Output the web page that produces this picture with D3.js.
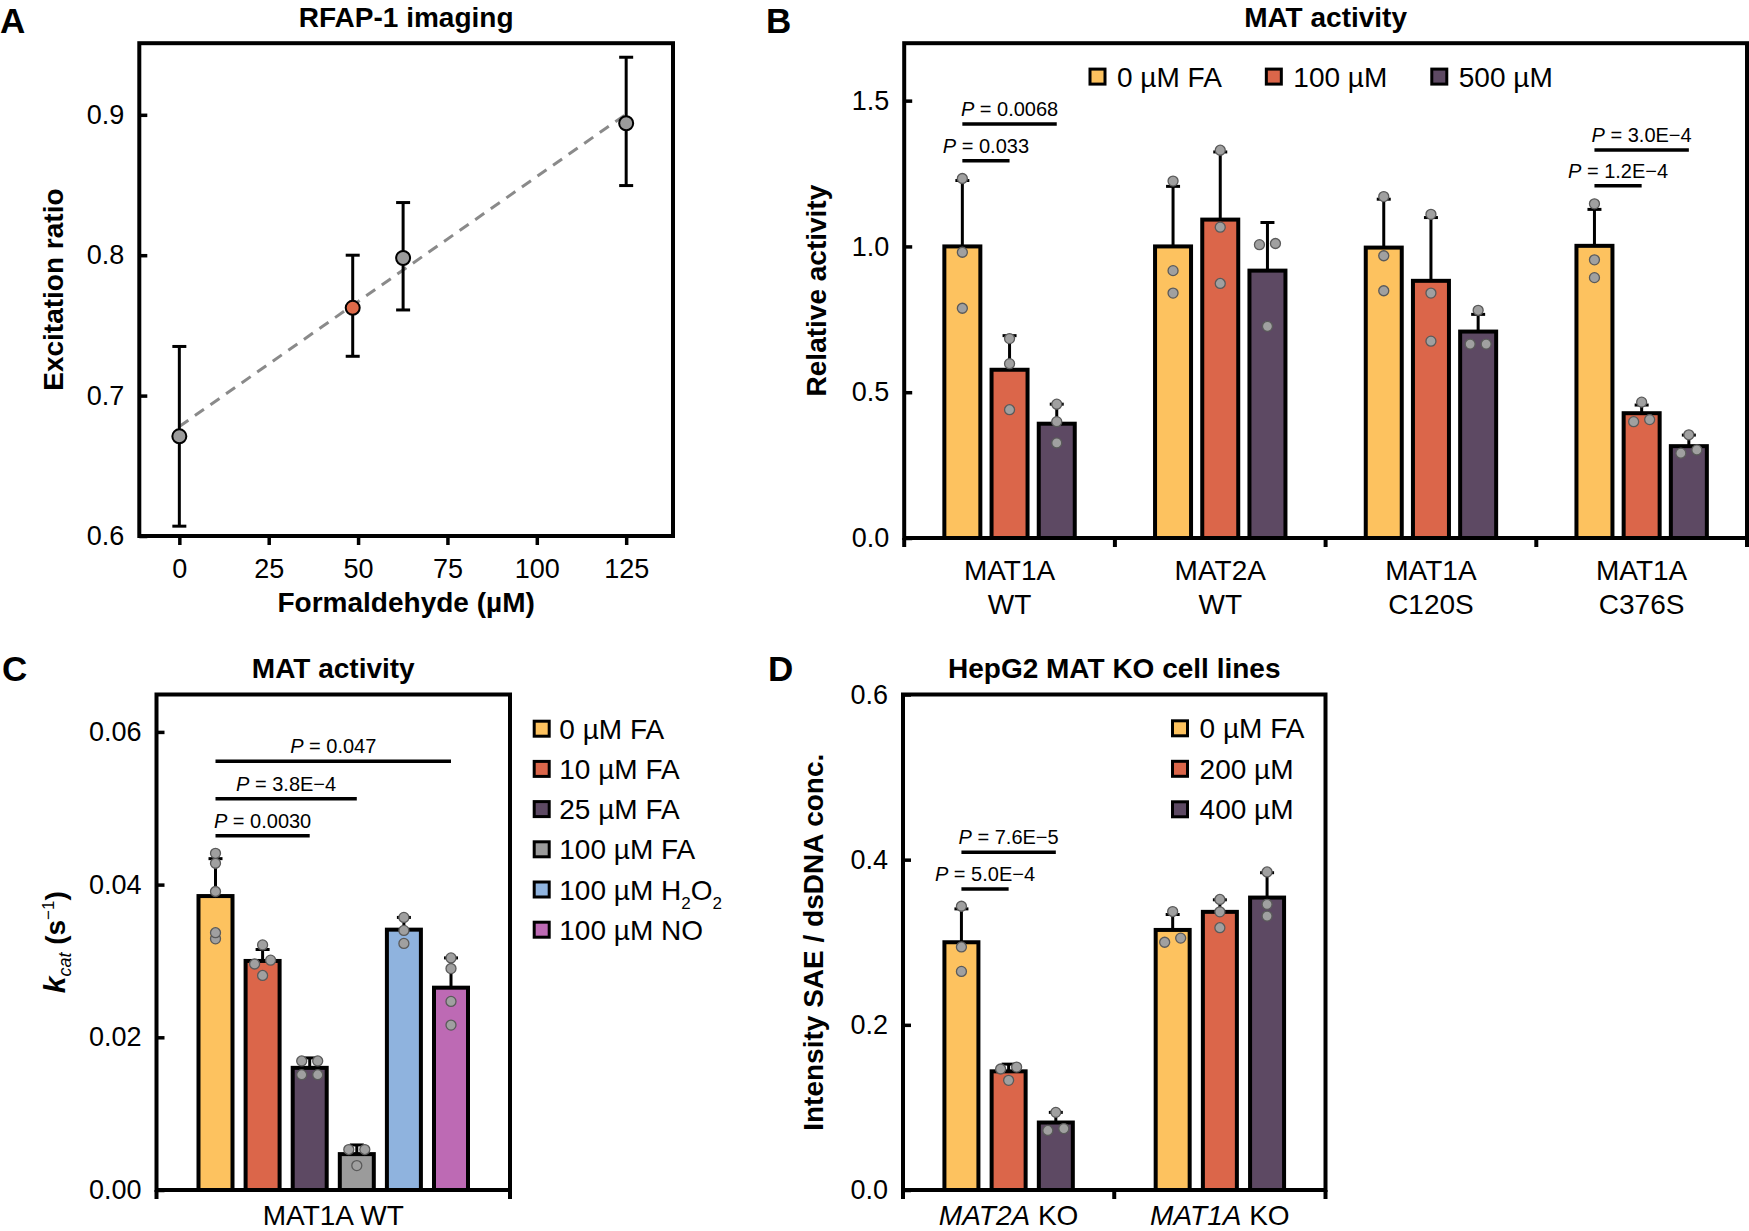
<!DOCTYPE html>
<html><head><meta charset="utf-8">
<script src="https://cdn.jsdelivr.net/npm/d3@7"></script>
<style>body{margin:0;background:#fff}svg{display:block}</style>
</head><body>
<script>
// ---------------- DATA ----------------
// Panel A: RFAP-1 imaging
const aX = [0, 48.5, 62.6, 125];
const aY = [0.671, 0.7625, 0.798, 0.894];
const aLow = [0.607, 0.728, 0.761, 0.8496];
const aHigh = [0.735, 0.800, 0.8375, 0.941];
const aHighlight = [false, true, false, false];
const aFitIntercept = 0.678;
const aFitSlope = 0.00178;
const aXTicks = [0, 25, 50, 75, 100, 125];
const aYTicks = [0.6, 0.7, 0.8, 0.9];

// Panel B: MAT activity (relative)
const bGroups = [["MAT1A", "WT"], ["MAT2A", "WT"], ["MAT1A", "C120S"], ["MAT1A", "C376S"]];
const bSeries = ["0 µM FA", "100 µM", "500 µM"];
const bMeans = [[1.00, 0.577, 0.392], [1.00, 1.092, 0.917], [0.996, 0.882, 0.708], [1.002, 0.428, 0.315]];
const bErrTop = [[1.226, 0.694, 0.459], [1.206, 1.324, 1.082], [1.162, 1.099, 0.767], [1.127, 0.456, 0.353]];
const bDots = [
  [[1.233, 0.98, 0.788], [0.684, 0.598, 0.44], [0.459, 0.399, 0.326]],
  [[1.224, 0.917, 0.84], [1.33, 1.066, 0.873], [1.006, 1.01, 0.726]],
  [[1.171, 0.968, 0.848], [1.11, 0.84, 0.675], [0.781, 0.665, 0.665]],
  [[1.146, 0.954, 0.893], [0.466, 0.399, 0.406], [0.354, 0.291, 0.302]]
];
const bSig = [
  {group: 0, from: 0, to: 1, level: 1.294, p: "0.033"},
  {group: 0, from: 0, to: 2, level: 1.42, p: "0.0068"},
  {group: 3, from: 0, to: 1, level: 1.208, p: "1.2E\u22124"},
  {group: 3, from: 0, to: 2, level: 1.331, p: "3.0E\u22124"}
];
const bYTicks = [0, 0.5, 1.0, 1.5];

// Panel C: MAT activity (kcat)
const cCategory = "MAT1A WT";
const cSeries = ["0 µM FA", "10 µM FA", "25 µM FA", "100 µM FA", "100 µM H2O2", "100 µM NO"];
const cMeans = [0.0385, 0.0300, 0.0160, 0.0047, 0.0341, 0.0265];
const cErrTop = [0.0434, 0.0315, 0.0173, 0.0059, 0.0357, 0.0304];
const cDots = [
  [0.0441, 0.0428, 0.0391, 0.0337, 0.0329],
  [0.0321, 0.0296, 0.0301, 0.0281],
  [0.0169, 0.0169, 0.0151, 0.0151],
  [0.0053, 0.0053, 0.0032],
  [0.0357, 0.0340, 0.0323],
  [0.0304, 0.0290, 0.0247, 0.0216]
];
const cSig = [
  {group: 0, from: 0, to: 2, level: 0.0464, p: "0.0030"},
  {group: 0, from: 0, to: 3, level: 0.05125, p: "3.8E\u22124"},
  {group: 0, from: 0, to: 5, level: 0.05615, p: "0.047"}
];
const cYTicks = [0, 0.02, 0.04, 0.06];

// Panel D: HepG2 MAT KO cell lines
const dGroups = ["MAT2A", "MAT1A"];
const dSeries = ["0 µM FA", "200 µM", "400 µM"];
const dMeans = [[0.300, 0.1437, 0.0817], [0.3149, 0.3368, 0.3541]];
const dErrTop = [[0.3404, 0.1524, 0.094], [0.3336, 0.3514, 0.3842]];
const dDots = [
  [[0.3436, 0.2943, 0.2647], [0.1465, 0.1488, 0.1328], [0.094, 0.0721, 0.0744]],
  [[0.3372, 0.300, 0.305], [0.3518, 0.3368, 0.3176], [0.3851, 0.3459, 0.3317]]
];
const dSig = [
  {group: 0, from: 0, to: 1, level: 0.3646, p: "5.0E\u22124"},
  {group: 0, from: 0, to: 2, level: 0.4089, p: "7.6E\u22125"}
];
const dYTicks = [0, 0.2, 0.4, 0.6];

// ---------------- STYLE ----------------
const FONT = "'Liberation Sans', Arial, Helvetica, sans-serif";
const COL_Y = "#FDC25F", COL_R = "#DB664A", COL_P = "#5D4963",
      COL_G = "#9B9B9B", COL_B = "#8FB3DE", COL_M = "#BD6AB4";
const FS = 27, FS_T = 28, FS_P = 20;

const svg = d3.select("body").append("svg")
  .attr("width", 1749).attr("height", 1231)
  .attr("font-family", FONT);

function styleAxis(g) {
  g.select(".domain").remove();
  g.selectAll(".tick line").attr("stroke", "#000").attr("stroke-width", 3.5);
  g.selectAll(".tick text").attr("fill", "#000").attr("font-size", FS).attr("font-family", FONT);
}
function frame(f) {
  svg.append("rect").attr("x", f.l).attr("y", f.t)
    .attr("width", f.r - f.l).attr("height", f.b - f.t)
    .attr("fill", "none").attr("stroke", "#000").attr("stroke-width", 4);
}
function label(x, y, str, o = {}) {
  return svg.append("text").attr("x", x).attr("y", y)
    .attr("font-size", o.size || FS_T)
    .attr("font-weight", o.bold ? "bold" : "normal")
    .attr("text-anchor", o.anchor || "start")
    .attr("fill", "#000").text(str);
}
function yTitle(x, y, str) {
  return svg.append("text").attr("transform", `translate(${x},${y}) rotate(-90)`)
    .attr("text-anchor", "middle").attr("font-size", FS_T).attr("font-weight", "bold").text(str);
}

// ---------------- PANEL A ----------------
const FA = {l: 139.3, r: 673, t: 43.2, b: 536};
const ax = d3.scaleLinear().domain([-11.2, 138.1]).range([FA.l, FA.r]);
const ay = d3.scaleLinear().domain([0.6, 0.951]).range([FA.b, FA.t]);

label(0, 33, "A", {size: 35, bold: true});
label((FA.l + FA.r) / 2, 27, "RFAP-1 imaging", {bold: true, anchor: "middle"});

svg.append("path")
  .datum([0, 125].map(x => [x, aFitIntercept + aFitSlope * x]))
  .attr("d", d3.line().x(d => ax(d[0])).y(d => ay(d[1])))
  .attr("fill", "none").attr("stroke", "#8a8a8a").attr("stroke-width", 3)
  .attr("stroke-dasharray", "11,8");

const aPts = aX.map((x, i) => ({x, y: aY[i], lo: aLow[i], hi: aHigh[i], hl: aHighlight[i]}));
const aErr = svg.append("g").attr("stroke", "#000").attr("stroke-width", 3);
aPts.forEach(p => {
  aErr.append("line").attr("x1", ax(p.x)).attr("x2", ax(p.x)).attr("y1", ay(p.lo)).attr("y2", ay(p.hi));
  aErr.append("line").attr("x1", ax(p.x) - 7).attr("x2", ax(p.x) + 7).attr("y1", ay(p.lo)).attr("y2", ay(p.lo));
  aErr.append("line").attr("x1", ax(p.x) - 7).attr("x2", ax(p.x) + 7).attr("y1", ay(p.hi)).attr("y2", ay(p.hi));
});
svg.append("g").selectAll("circle").data(aPts).join("circle")
  .attr("cx", d => ax(d.x)).attr("cy", d => ay(d.y)).attr("r", 7)
  .attr("fill", d => d.hl ? "#DE6A49" : "#9B9B9B").attr("stroke", "#000").attr("stroke-width", 2);

frame(FA);
styleAxis(svg.append("g").attr("transform", `translate(${FA.l},0)`)
  .call(d3.axisLeft(ay).tickValues(aYTicks).tickFormat(d3.format(".1f")).tickSize(-8).tickPadding(15)));
styleAxis(svg.append("g").attr("transform", `translate(0,${FA.b})`)
  .call(d3.axisBottom(ax).tickValues(aXTicks).tickFormat(d3.format("d")).tickSize(9).tickPadding(14)));
label((FA.l + FA.r) / 2, 612, "Formaldehyde (µM)", {bold: true, anchor: "middle"});
yTitle(63, (FA.t + FA.b) / 2, "Excitation ratio");

// ---------------- BAR PANEL HELPER ----------------
function barPanel(cfg) {
  const f = cfg.frame;
  const y = d3.scaleLinear().domain(cfg.yDomain).range([f.b, f.t]);
  const x0 = d3.scaleBand().domain(d3.range(cfg.means.length)).range([f.l, f.r]);
  const n = cfg.colors.length;
  const x1 = d3.scaleBand().domain(d3.range(n)).range([-n * cfg.sp / 2, n * cfg.sp / 2]);
  const cx = (gi, si) => x0(gi) + x0.bandwidth() / 2 + x1(si) + x1.bandwidth() / 2;
  const recs = [];
  cfg.means.forEach((row, gi) => row.forEach((m, si) =>
    recs.push({gi, si, m, e: cfg.err[gi][si], dots: cfg.dots[gi][si]})));
  const g = svg.append("g");
  g.selectAll("rect.bar").data(recs).join("rect").attr("class", "bar")
    .attr("x", d => cx(d.gi, d.si) - cfg.bw / 2).attr("width", cfg.bw)
    .attr("y", d => y(d.m)).attr("height", d => y(0) - y(d.m))
    .attr("fill", d => cfg.colors[d.si]).attr("stroke", "#000").attr("stroke-width", 4);
  const eg = g.append("g").attr("stroke", "#000").attr("stroke-width", 3);
  recs.forEach(d => {
    const x = cx(d.gi, d.si);
    eg.append("line").attr("x1", x).attr("x2", x).attr("y1", y(d.m)).attr("y2", y(d.e));
    eg.append("line").attr("x1", x - 7).attr("x2", x + 7).attr("y1", y(d.e)).attr("y2", y(d.e));
  });
  const dg = g.append("g");
  recs.forEach(d => {
    const x = cx(d.gi, d.si);
    const vals = d.dots.slice().sort((a, b) => a - b);
    const clusters = [];
    vals.forEach(v => {
      const last = clusters[clusters.length - 1];
      if (last && Math.abs(y(last[last.length - 1]) - y(v)) < 5) last.push(v);
      else clusters.push([v]);
    });
    clusters.forEach(cl => cl.forEach((v, i) => {
      dg.append("circle").attr("cx", x + (i - (cl.length - 1) / 2) * 16).attr("cy", y(v))
        .attr("r", 5).attr("fill", "#a0a0a0").attr("stroke", "#5a5a5a").attr("stroke-width", 1.3);
    }));
  });
  frame(f);
  styleAxis(svg.append("g").attr("transform", `translate(${f.l},0)`)
    .call(d3.axisLeft(y).tickValues(cfg.yTicks).tickFormat(d3.format(cfg.fmt)).tickSize(-8).tickPadding(15)));
  const bounds = d3.range(cfg.means.length + 1).map(i => i < cfg.means.length ? x0(i) : f.r);
  svg.append("g").selectAll("line").data(bounds).join("line")
    .attr("x1", d => d).attr("x2", d => d).attr("y1", f.b).attr("y2", f.b + 9)
    .attr("stroke", "#000").attr("stroke-width", 4);
  cfg.sig.forEach(s => {
    const xa = cx(s.group, s.from), xb = cx(s.group, s.to), yy = y(s.level);
    svg.append("line").attr("x1", xa).attr("x2", xb).attr("y1", yy).attr("y2", yy)
      .attr("stroke", "#000").attr("stroke-width", 3.5);
    const t = svg.append("text").attr("x", (xa + xb) / 2).attr("y", yy - 8)
      .attr("text-anchor", "middle").attr("font-size", FS_P);
    t.append("tspan").attr("font-style", "italic").text("P");
    t.append("tspan").text(" = " + s.p);
  });
  return {x0, y};
}

// ---------------- PANEL B ----------------
const FB = {l: 904.2, r: 1747, t: 43.2, b: 538};
label(766, 33, "B", {size: 35, bold: true});
label((FB.l + FB.r) / 2, 27, "MAT activity", {bold: true, anchor: "middle"});
const pb = barPanel({frame: FB, yDomain: [0, 1.697], yTicks: bYTicks, fmt: ".1f",
  means: bMeans, err: bErrTop, dots: bDots, sig: bSig, colors: [COL_Y, COL_R, COL_P], sp: 47.2, bw: 36});
bGroups.forEach((lines, gi) => {
  const x = pb.x0(gi) + pb.x0.bandwidth() / 2;
  label(x, 579.5, lines[0], {size: FS_T, anchor: "middle"});
  label(x, 614, lines[1], {size: FS_T, anchor: "middle"});
});
yTitle(826, (FB.t + FB.b) / 2, "Relative activity");
{
  let xPos = 1088.5;
  const yc = 76.6;
  bSeries.forEach((s, i) => {
    svg.append("rect").attr("x", xPos + 1.5).attr("y", yc - 7.5).attr("width", 15).attr("height", 15)
      .attr("fill", [COL_Y, COL_R, COL_P][i]).attr("stroke", "#000").attr("stroke-width", 3);
    const t = label(xPos + 28.5, yc + 10, s, {size: FS_T});
    xPos = xPos + 28.5 + t.node().getComputedTextLength() + 43;
  });
}

// ---------------- PANEL C ----------------
const FC = {l: 156.5, r: 510, t: 694.5, b: 1190};
label(2, 681, "C", {size: 35, bold: true});
label((FC.l + FC.r) / 2, 678, "MAT activity", {bold: true, anchor: "middle"});
barPanel({frame: FC, yDomain: [0, 0.0649], yTicks: cYTicks, fmt: ".2f",
  means: [cMeans], err: [cErrTop], dots: [cDots], sig: cSig,
  colors: [COL_Y, COL_R, COL_P, COL_G, COL_B, COL_M], sp: 47.1, bw: 34});
label((FC.l + FC.r) / 2, 1225, cCategory, {size: FS_T, anchor: "middle"});
{
  const t = svg.append("text").attr("transform", `translate(65,${(FC.t + FC.b) / 2}) rotate(-90)`)
    .attr("text-anchor", "middle").attr("font-size", FS_T).attr("font-weight", "bold");
  t.append("tspan").attr("font-style", "italic").attr("font-size", 30).text("k");
  t.append("tspan").attr("font-style", "italic").attr("font-weight", "normal").attr("font-size", 18).attr("dy", 6).text("cat");
  t.append("tspan").attr("dy", -6).text(" (s");
  t.append("tspan").attr("font-size", 17).attr("font-weight", "normal").attr("dy", -11).text("\u22121");
  t.append("tspan").attr("dy", 11).text(")");
}
cSeries.forEach((s, i) => {
  const yc = 728.7 + i * 40.2;
  svg.append("rect").attr("x", 534.2).attr("y", yc - 7.5).attr("width", 15).attr("height", 15)
    .attr("fill", [COL_Y, COL_R, COL_P, COL_G, COL_B, COL_M][i]).attr("stroke", "#000").attr("stroke-width", 3);
  const t = svg.append("text").attr("x", 559.3).attr("y", yc + 10).attr("font-size", FS_T);
  const m = s.match(/^(.*H)2O2$/);
  if (m) {
    t.append("tspan").text(m[1]);
    t.append("tspan").attr("font-size", 17).attr("dy", 9).text("2");
    t.append("tspan").attr("dy", -9).text("O");
    t.append("tspan").attr("font-size", 17).attr("dy", 9).text("2");
  } else t.text(s);
});

// ---------------- PANEL D ----------------
const FD = {l: 903, r: 1325.5, t: 694.5, b: 1190};
label(768, 681, "D", {size: 35, bold: true});
label((FD.l + FD.r) / 2, 678, "HepG2 MAT KO cell lines", {bold: true, anchor: "middle"});
const pd = barPanel({frame: FD, yDomain: [0, 0.6], yTicks: dYTicks, fmt: ".1f",
  means: dMeans, err: dErrTop, dots: dDots, sig: dSig, colors: [COL_Y, COL_R, COL_P], sp: 47.2, bw: 34});
dGroups.forEach((gname, gi) => {
  const x = pd.x0(gi) + pd.x0.bandwidth() / 2;
  const t = svg.append("text").attr("x", x).attr("y", 1225).attr("text-anchor", "middle").attr("font-size", FS_T);
  t.append("tspan").attr("font-style", "italic").text(gname);
  t.append("tspan").text(" KO");
});
yTitle(823, (FD.t + FD.b) / 2, "Intensity SAE / dsDNA conc.");
dSeries.forEach((s, i) => {
  const yc = 728.3 + i * 40.5;
  svg.append("rect").attr("x", 1172.5).attr("y", yc - 7.5).attr("width", 15).attr("height", 15)
    .attr("fill", [COL_Y, COL_R, COL_P][i]).attr("stroke", "#000").attr("stroke-width", 3);
  label(1199.6, yc + 10, s, {size: FS_T});
});
</script>
</body></html>
